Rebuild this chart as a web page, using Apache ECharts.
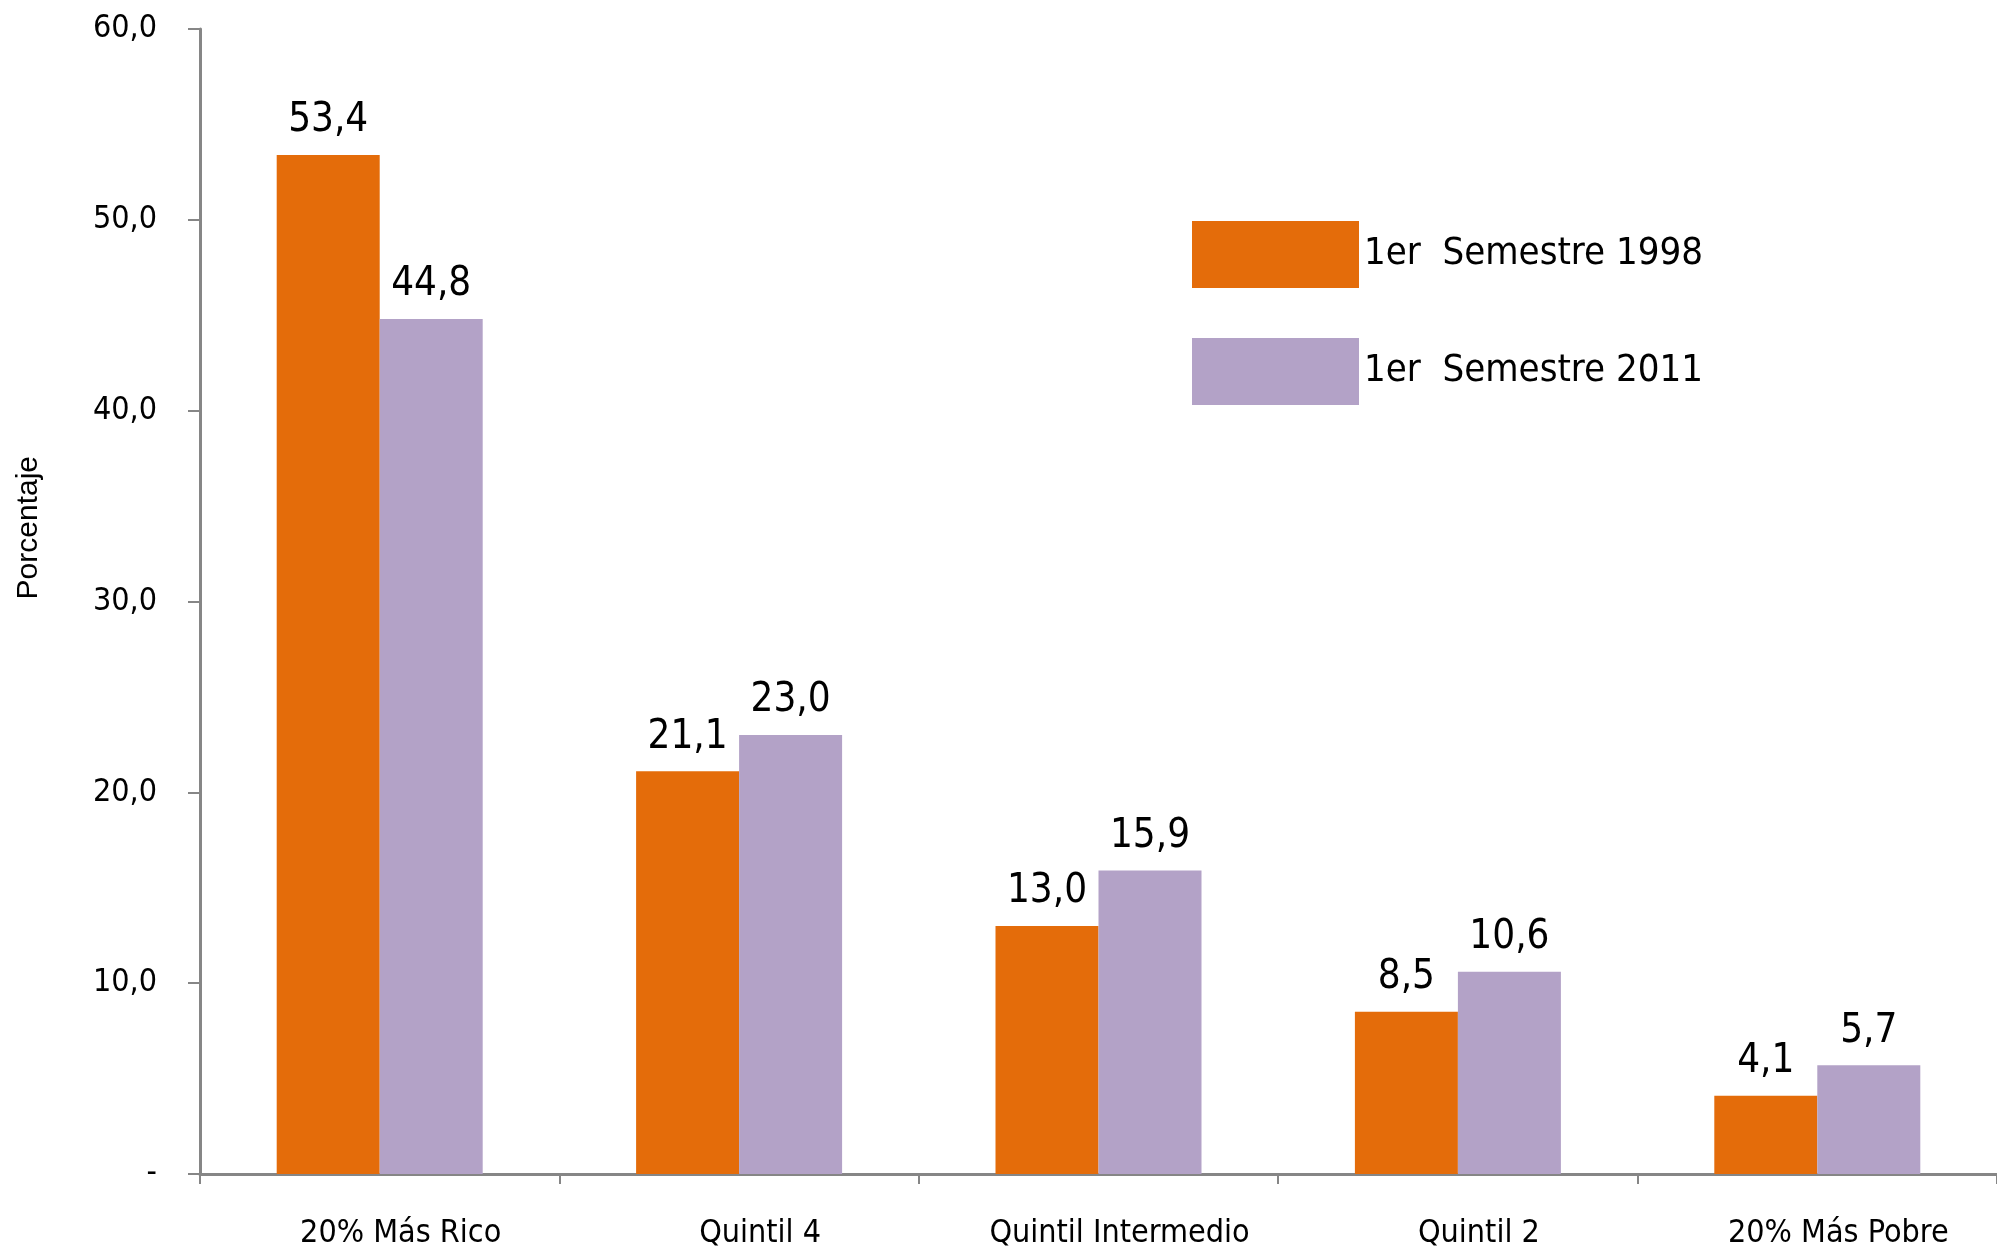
<!DOCTYPE html>
<html>
<head>
<meta charset="utf-8">
<script src="https://cdn.jsdelivr.net/npm/echarts@6/dist/echarts.min.js"></script>
<style>
  html, body { margin: 0; padding: 0; background: #fff; }
  #chart { width: 1997px; height: 1251px; }
</style>
</head>
<body>
<div id="chart"></div>
<script>
// datos
const categories = ['20% Más Rico', 'Quintil 4', 'Quintil Intermedio', 'Quintil 2', '20% Más Pobre'];
const seriesNames = ['1er  Semestre 1998', '1er  Semestre 2011'];
const values1998 = [53.4, 21.1, 13.0, 8.5, 4.1];
const values2011 = [44.8, 23.0, 15.9, 10.6, 5.7];
const yTicks = [0, 10, 20, 30, 40, 50, 60];

const narrow = '"Liberation Sans Narrow", "Arial Narrow", "DejaVu Sans Condensed", sans-serif';
const fmt = v => (v === 0 ? '-' : v.toFixed(1).replace('.', ','));

const chart = echarts.init(document.getElementById('chart'));

const barLabel = {
  show: true,
  position: 'top',
  distance: 14,
  color: '#000',
  fontFamily: narrow,
  fontSize: 40,
  formatter: p => fmt(p.value)
};

chart.setOption({
  animation: false,
  color: ['#E46C0A', '#B3A2C7'],
  grid: { left: 200, top: 29, width: 1800, bottom: 77 },
  legend: {
    orient: 'vertical',
    left: 1187,
    top: 216,
    itemWidth: 167,
    itemHeight: 67,
    itemGap: 50,
    icon: 'rect',
    textStyle: { fontFamily: narrow, fontSize: 38, color: '#000' },
    data: seriesNames
  },
  xAxis: {
    type: 'category',
    data: categories,
    axisLine: { lineStyle: { color: '#868686', width: 3 } },
    axisTick: { show: true, length: 10, lineStyle: { color: '#868686', width: 2 } },
    axisLabel: { interval: 0, color: '#000', fontFamily: narrow, fontSize: 32, margin: 44, padding: [0, 0, 0, 42] }
  },
  yAxis: {
    type: 'value',
    min: yTicks[0],
    max: yTicks[yTicks.length - 1],
    interval: 10,
    splitLine: { show: false },
    axisLine: { show: true, lineStyle: { color: '#868686', width: 3 } },
    axisTick: { show: true, length: 12, lineStyle: { color: '#868686', width: 2 } },
    axisLabel: { color: '#000', fontFamily: narrow, fontSize: 32, margin: 43, formatter: fmt }
  },
  graphic: [{
    type: 'text',
    left: 14,
    top: 456,
    rotation: Math.PI / 2,
    style: {
      text: 'Porcentaje',
      fill: '#000',
      font: '30px "Liberation Sans", Arial, sans-serif'
    }
  }],
  series: [
    {
      name: seriesNames[0],
      type: 'bar',
      data: values1998,
      barWidth: 103,
      barGap: '0%',
      label: barLabel
    },
    {
      name: seriesNames[1],
      type: 'bar',
      data: values2011,
      barWidth: 103,
      label: barLabel
    }
  ]
});
</script>
</body>
</html>
